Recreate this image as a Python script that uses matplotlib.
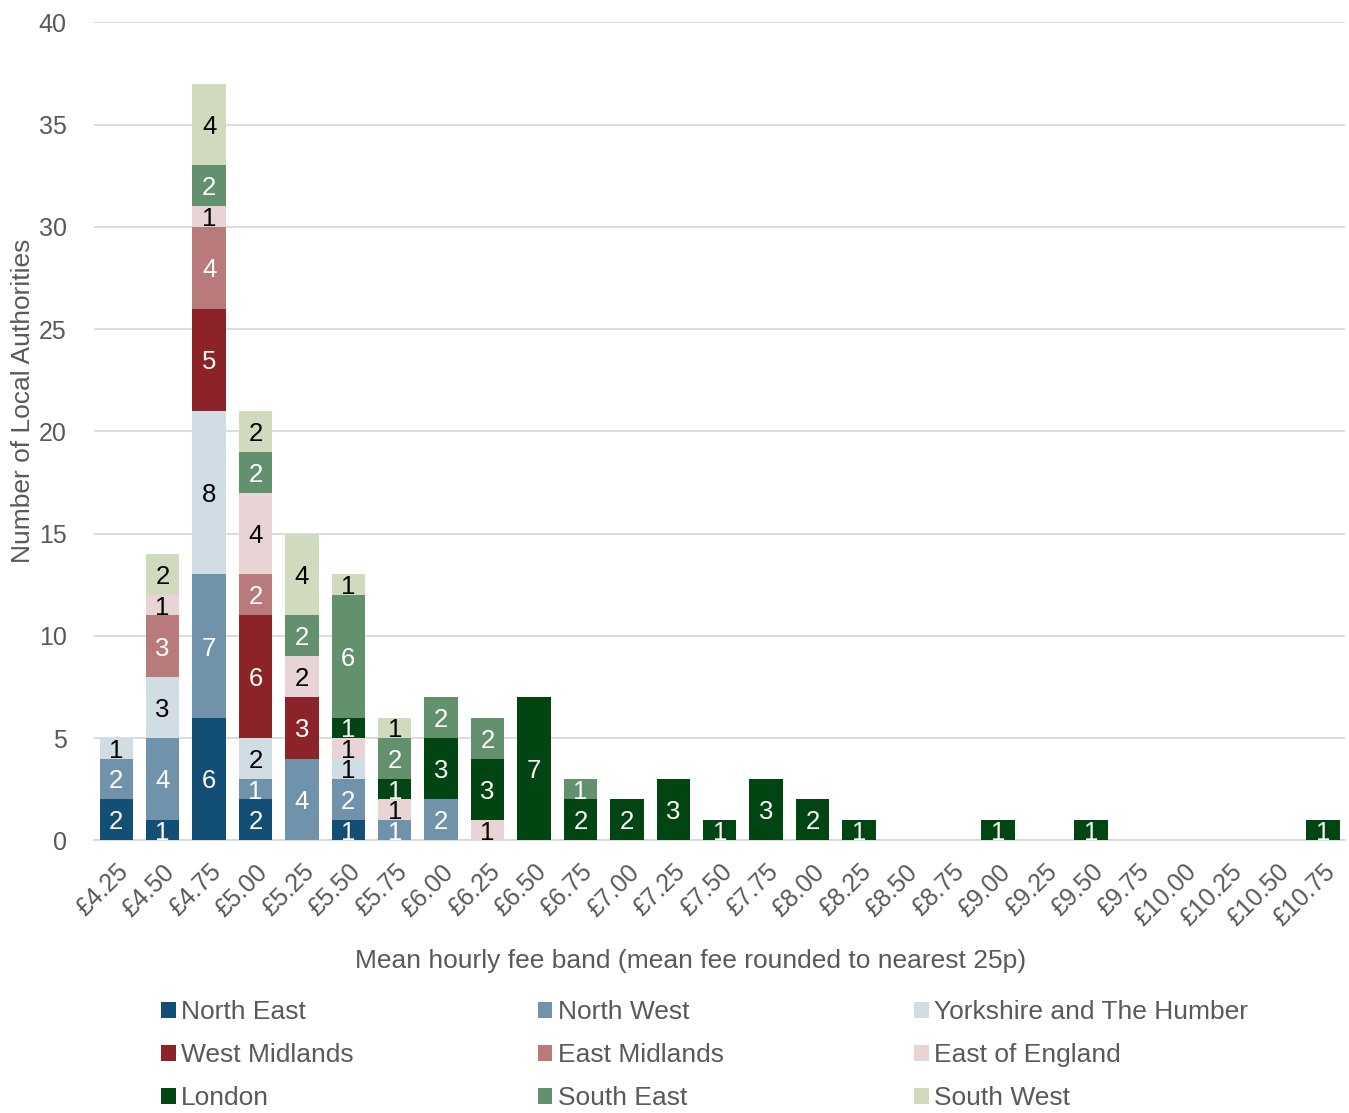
import numpy as np
import matplotlib
matplotlib.use("Agg")
import matplotlib.pyplot as plt

plt.rcParams['font.family'] = ['Liberation Sans', 'DejaVu Sans']

# fee bands £4.25 .. £10.75
bands = ['£%.2f' % (4.25 + 0.25 * i) for i in range(27)]

regions = ['North East', 'North West', 'Yorkshire and The Humber',
           'West Midlands', 'East Midlands', 'East of England',
           'London', 'South East', 'South West']

#                 4.25 4.50 4.75 5.00 5.25 5.50 5.75 6.00 6.25 6.50 6.75 7.00 7.25 7.50 7.75 8.00 8.25 8.50 8.75 9.00 9.25 9.50 9.75 10.0 10.25 10.5 10.75
north_east    = [2, 1, 6, 2, 0, 1, 0, 0, 0, 0, 0, 0, 0, 0, 0, 0, 0, 0, 0, 0, 0, 0, 0, 0, 0, 0, 0]
north_west    = [2, 4, 7, 1, 4, 2, 1, 2, 0, 0, 0, 0, 0, 0, 0, 0, 0, 0, 0, 0, 0, 0, 0, 0, 0, 0, 0]
yorkshire     = [1, 3, 8, 2, 0, 1, 0, 0, 0, 0, 0, 0, 0, 0, 0, 0, 0, 0, 0, 0, 0, 0, 0, 0, 0, 0, 0]
west_mid      = [0, 0, 5, 6, 3, 0, 0, 0, 0, 0, 0, 0, 0, 0, 0, 0, 0, 0, 0, 0, 0, 0, 0, 0, 0, 0, 0]
east_mid      = [0, 3, 4, 2, 0, 0, 0, 0, 0, 0, 0, 0, 0, 0, 0, 0, 0, 0, 0, 0, 0, 0, 0, 0, 0, 0, 0]
east_england  = [0, 1, 1, 4, 2, 1, 1, 0, 1, 0, 0, 0, 0, 0, 0, 0, 0, 0, 0, 0, 0, 0, 0, 0, 0, 0, 0]
london        = [0, 0, 0, 0, 0, 1, 1, 3, 3, 7, 2, 2, 3, 1, 3, 2, 1, 0, 0, 1, 0, 1, 0, 0, 0, 0, 1]
south_east    = [0, 0, 2, 2, 2, 6, 2, 2, 2, 0, 1, 0, 0, 0, 0, 0, 0, 0, 0, 0, 0, 0, 0, 0, 0, 0, 0]
south_west    = [0, 2, 4, 2, 4, 1, 1, 0, 0, 0, 0, 0, 0, 0, 0, 0, 0, 0, 0, 0, 0, 0, 0, 0, 0, 0, 0]

series = [north_east, north_west, yorkshire, west_mid, east_mid,
          east_england, london, south_east, south_west]
colors = ['#134f74', '#7093ab', '#d0dde5', '#8b2328', '#b97a7c',
          '#e8d3d5', '#014612', '#63916e', '#d0dbbd']
label_col = ['white', 'white', 'black', 'white', 'white',
             'black', 'white', 'white', 'black']

grey = '#595959'

fig = plt.figure(figsize=(13.49, 11.13), dpi=100)
ax = fig.add_axes([0.070, 0.245, 0.927, 0.735])

x = np.arange(len(bands))
bottom = np.zeros(len(bands))
handles = []
for vals, col, tc, name in zip(series, colors, label_col, regions):
    vals = np.array(vals, dtype=float)
    b = ax.bar(x, vals, 0.72, bottom=bottom, color=col, label=name, zorder=3)
    handles.append(b)
    for xi, v, b0 in zip(x, vals, bottom):
        if v > 0:
            ax.text(xi, b0 + v / 2, '%d' % v, ha='center', va='center_baseline',
                    color=tc, fontsize=18.5, zorder=4)
    bottom += vals

ax.set_xlim(-0.47, len(bands) - 0.53)
ax.set_ylim(0, 40)
ax.set_yticks(range(0, 41, 5))
ax.grid(axis='y', color='#d9d9d9', linewidth=1.3, zorder=0)
for s in ['top', 'right', 'left']:
    ax.spines[s].set_visible(False)
ax.spines['bottom'].set_color('#d9d9d9')
ax.spines['bottom'].set_linewidth(1.3)
ax.tick_params(length=0, colors=grey, labelsize=18)
ax.tick_params(axis='y', pad=20)
ax.tick_params(axis='x', pad=14)
ax.set_xticks(x)
ax.set_xticklabels(bands, rotation=45, ha='right', rotation_mode='anchor')

fig.text(0.017, 0.64, 'Number of Local Authorities', rotation=90,
         ha='center', va='center', color=grey, fontsize=19)
fig.text(0.512, 0.137, 'Mean hourly fee band (mean fee rounded to nearest 25p)',
         ha='center', va='center', color=grey, fontsize=19)

# one legend per column so the columns sit at fixed places
for c, xpos in enumerate([0.106, 0.385, 0.664]):
    fig.legend(handles=[handles[c], handles[c + 3], handles[c + 6]],
               loc='upper left', bbox_to_anchor=(xpos, 0.118),
               frameon=False, fontsize=19, labelcolor=grey,
               handlelength=0.55, handleheight=0.55, handletextpad=0.2,
               labelspacing=0.72, borderpad=0.2)

fig.savefig('out.png', dpi=100)
